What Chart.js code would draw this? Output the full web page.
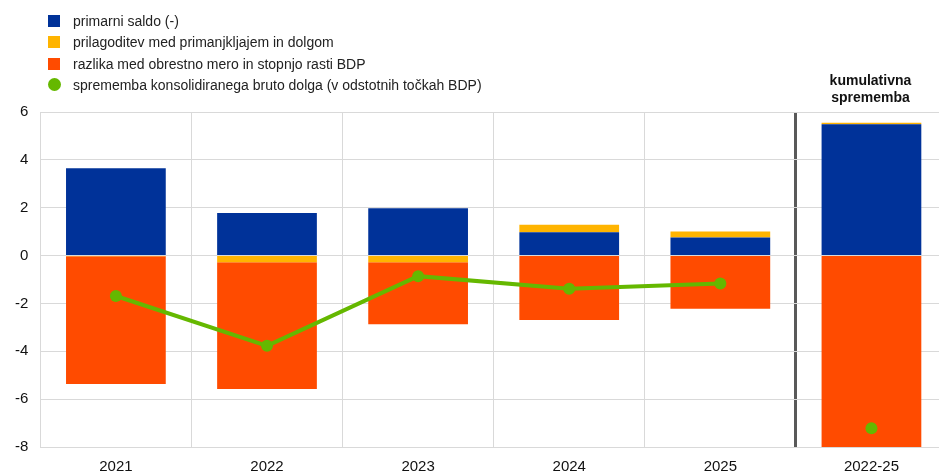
<!DOCTYPE html>
<html>
<head>
<meta charset="utf-8">
<script src="https://cdn.jsdelivr.net/npm/chart.js@4.4.1/dist/chart.umd.min.js"></script>
<style>
  html, body { margin: 0; padding: 0; background: #fff; overflow: hidden; }
  #wrap { position: relative; width: 939px; height: 472px; overflow: hidden; }
  #chartBox { position: absolute; left: 0; top: 0; width: 953px; height: 487px; }
  #legend { position: absolute; left: 48px; top: 13px; font-family: "Liberation Sans", Arial, sans-serif; font-size: 14px; color: #222; }
  #legend div { height: 21.3px; line-height: 16px; display: flex; align-items: flex-start; }
  #legend span.mk { width: 12px; height: 12px; margin-top: 2px; margin-right: 13px; display: inline-block; }
  #legend span.dot { border-radius: 50%; width: 13px; height: 13px; margin-top: 1px; margin-right: 12px; }
</style>
</head>
<body>
<div id="wrap">
  <div id="chartBox"><canvas id="debtChart" width="953" height="487"></canvas></div>
  <div id="legend"></div>
</div>
<script>
// categories and values (percentage points of GDP)
const years = ["2021", "2022", "2023", "2024", "2025", "2022-25"];
const primaryBalance = [3.65, 1.78, 1.98, 0.97, 0.76, 5.49];
const deficitDebtAdj = [-0.03, -0.28, -0.28, 0.32, 0.25, 0.06];
const interestGrowthDiff = [-5.34, -5.30, -2.59, -2.69, -2.22, -12.8];
const debtChange = [-1.69, -3.77, -0.86, -1.39, -1.17, -7.22];
const yTicks = [6, 4, 2, 0, -2, -4, -6, -8];

const seriesNames = [
	"primarni saldo (-)",
	"prilagoditev med primanjkljajem in dolgom",
	"razlika med obrestno mero in stopnjo rasti BDP",
	"sprememba konsolidiranega bruto dolga (v odstotnih točkah BDP)"
];
const colors = ["#003299", "#ffb400", "#ff4b00", "#65b800"];
const headerLines = ["kumulativna", "sprememba"];

// html legend
const legendEl = document.getElementById("legend");
seriesNames.forEach(function (name, i) {
	const row = document.createElement("div");
	const mk = document.createElement("span");
	mk.className = i === 3 ? "mk dot" : "mk";
	mk.style.background = colors[i];
	row.appendChild(mk);
	row.appendChild(document.createTextNode(name));
	legendEl.appendChild(row);
});

// header above the cumulative column
const headerPlugin = {
	id: "cumulHeader",
	afterDraw(chart) {
		const c = chart.ctx;
		const x = chart.scales.x.getPixelForValue(5);
		c.save();
		c.font = "bold 14px 'Liberation Sans', Arial, sans-serif";
		c.fillStyle = "#111";
		c.textAlign = "center";
		c.textBaseline = "middle";
		c.fillText(headerLines[0], x - 1, 81);
		c.fillText(headerLines[1], x - 1, 98);
		c.restore();
	}
};

const barBase = {
	type: "bar",
	stack: "bars",
	order: 2,
	categoryPercentage: 1,
	barPercentage: 0.66,
	borderWidth: 0
};

const ctx = document.getElementById("debtChart").getContext("2d");
new Chart(ctx, {
	data: {
		labels: years,
		datasets: [
			Object.assign({}, barBase, { label: seriesNames[0], data: primaryBalance, backgroundColor: colors[0] }),
			Object.assign({}, barBase, { label: seriesNames[1], data: deficitDebtAdj, backgroundColor: colors[1] }),
			Object.assign({}, barBase, { label: seriesNames[2], data: interestGrowthDiff, backgroundColor: colors[2] }),
			{
				type: "line",
				label: seriesNames[3],
				data: debtChange,
				stack: "line",
				order: 1,
				borderColor: colors[3],
				backgroundColor: colors[3],
				borderWidth: 4,
				pointRadius: 6,
				pointHoverRadius: 6,
				pointBorderWidth: 0,
				tension: 0,
				segment: {
					borderColor: (c) => (c.p1DataIndex === 5 ? "rgba(0,0,0,0)" : colors[3])
				}
			}
		]
	},
	options: {
		responsive: false,
		animation: false,
		layout: { padding: { top: 112, left: 3, right: 0, bottom: 0 } },
		plugins: { legend: { display: false }, tooltip: { enabled: false } },
		scales: {
			x: {
				stacked: true,
				offset: true,
				grid: {
					offset: true,
					drawTicks: false,
					color: (c) => (c.index === 5 ? "#595959" : "#d9d9d9"),
					lineWidth: (c) => (c.index === 5 ? 3 : 1)
				},
				border: { display: false },
				ticks: {
					padding: 11,
					color: "#111",
					font: { family: "'Liberation Sans', Arial, sans-serif", size: 15 }
				}
			},
			y: {
				stacked: true,
				min: -8,
				max: 6,
				afterBuildTicks: (axis) => {
					axis.ticks = yTicks.map((v) => ({ value: v }));
				},
				grid: { drawTicks: false, color: "#d9d9d9" },
				border: { display: true, color: "#d9d9d9" },
				ticks: {
					padding: 12,
					color: "#111",
					font: { family: "'Liberation Sans', Arial, sans-serif", size: 15 }
				}
			}
		}
	},
	plugins: [headerPlugin]
});
</script>
</body>
</html>
